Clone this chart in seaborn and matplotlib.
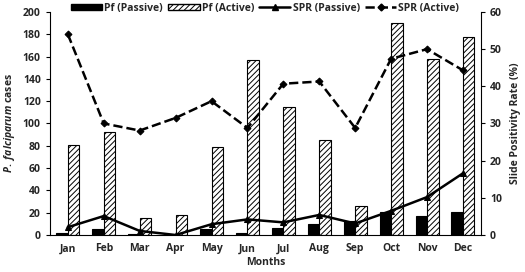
import numpy as np
import pandas as pd
import matplotlib
matplotlib.use("Agg")
import matplotlib.pyplot as plt
from matplotlib.lines import Line2D
from matplotlib.patches import Patch
import seaborn as sns

months = ["Jan", "Feb", "Mar", "Apr", "May", "Jun", "Jul", "Aug", "Sep", "Oct", "Nov", "Dec"]
pf_passive = [2, 5, 1, 0, 5, 2, 6.5, 10, 13, 21, 17, 21]
pf_active = [81, 92, 15, 18, 79, 157, 115, 85, 26, 190, 158, 178]
spr_passive = [2.1, 5.1, 1.1, 0, 2.9, 4.2, 3.4, 5.4, 3.1, 6.5, 10.2, 16.6]
spr_active = [54, 30, 28.1, 31.5, 36, 28.8, 40.7, 41.3, 28.8, 47.4, 50, 44.3]

sns.set_style("white")
plt.rcParams['font.family'] = ['Open Sans', 'DejaVu Sans']
plt.rcParams['font.weight'] = 'bold'
plt.rcParams['mathtext.fontset'] = 'custom'
plt.rcParams['mathtext.it'] = 'Open Sans:italic:bold'
plt.rcParams['mathtext.rm'] = 'Open Sans:bold'
plt.rcParams['hatch.linewidth'] = 0.7

df = pd.DataFrame({
    "month": months * 2,
    "cases": pf_passive + pf_active,
    "type": ["Pf (Passive)"] * 12 + ["Pf (Active)"] * 12,
})

fig = plt.figure(figsize=(5.25, 2.72), dpi=100)
ax = fig.add_axes([0.095, 0.136, 0.821, 0.82])

sns.barplot(data=df, x="month", y="cases", hue="type", order=months,
            hue_order=["Pf (Passive)", "Pf (Active)"],
            palette=["black", "white"], edgecolor="black", linewidth=0.8,
            width=0.64, gap=0, ax=ax, legend=False)
for bar in ax.patches[12:24]:
    bar.set_hatch("//////")

ax.set_ylim(0, 200)
ax.set_yticks(range(0, 201, 20))
ax.set_xlim(-0.5, 11.5)
ax.set_xlabel("Months", fontsize=7.5, fontweight="bold", labelpad=2)
ax.set_ylabel(r"$\it{P.\ falciparum}$ cases", fontsize=7.5, fontweight="bold", labelpad=4)

ax2 = ax.twinx()
x = np.arange(12)
sns.lineplot(x=x, y=spr_passive, ax=ax2, color="black", lw=1.8,
             marker="^", markersize=4, markeredgecolor="black")
sns.lineplot(x=x, y=spr_active, ax=ax2, color="black", lw=1.8, linestyle="--",
             marker="D", markersize=3.5, markeredgecolor="black")
ax2.set_ylim(0, 60)
ax2.set_yticks(range(0, 61, 10))
ax2.set_ylabel("Slide Positivity Rate (%)", fontsize=7.5, fontweight="bold",
               rotation=90, labelpad=6)

for a in (ax, ax2):
    a.spines["top"].set_visible(False)
    for s in a.spines.values():
        s.set_color("black")
        s.set_linewidth(0.8)
ax.spines["right"].set_visible(False)
ax2.spines["left"].set_visible(False)
ax2.spines["bottom"].set_visible(False)

ax.tick_params(axis="x", which="major", length=0, labelsize=7.5, pad=6)
ax.set_xticks(np.arange(-0.5, 12, 1), minor=True)
ax.tick_params(axis="x", which="minor", length=3, width=0.8, direction="out", color="black")
ax.tick_params(axis="y", length=3, width=0.8, direction="out", color="black", labelsize=7.5, left=True)
ax2.tick_params(axis="y", length=3, width=0.8, direction="out", color="black", labelsize=7.5, right=True)

handles = [
    Patch(facecolor="black", edgecolor="black"),
    Patch(facecolor="white", edgecolor="black", hatch="//////"),
    Line2D([], [], color="black", lw=1.8, marker="^", markersize=4),
    Line2D([], [], color="black", lw=1.8, ls="--", marker="D", markersize=3.5),
]
labels = ["Pf (Passive)", "Pf (Active)", "SPR (Passive)", "SPR (Active)"]
fig.legend(handles, labels, loc="upper center", bbox_to_anchor=(0.505, 1.025), ncol=4,
           frameon=False, fontsize=7.5, handlelength=3.0, handleheight=0.6,
           columnspacing=0.5, handletextpad=0.2)

fig.savefig("out.png", dpi=100)
